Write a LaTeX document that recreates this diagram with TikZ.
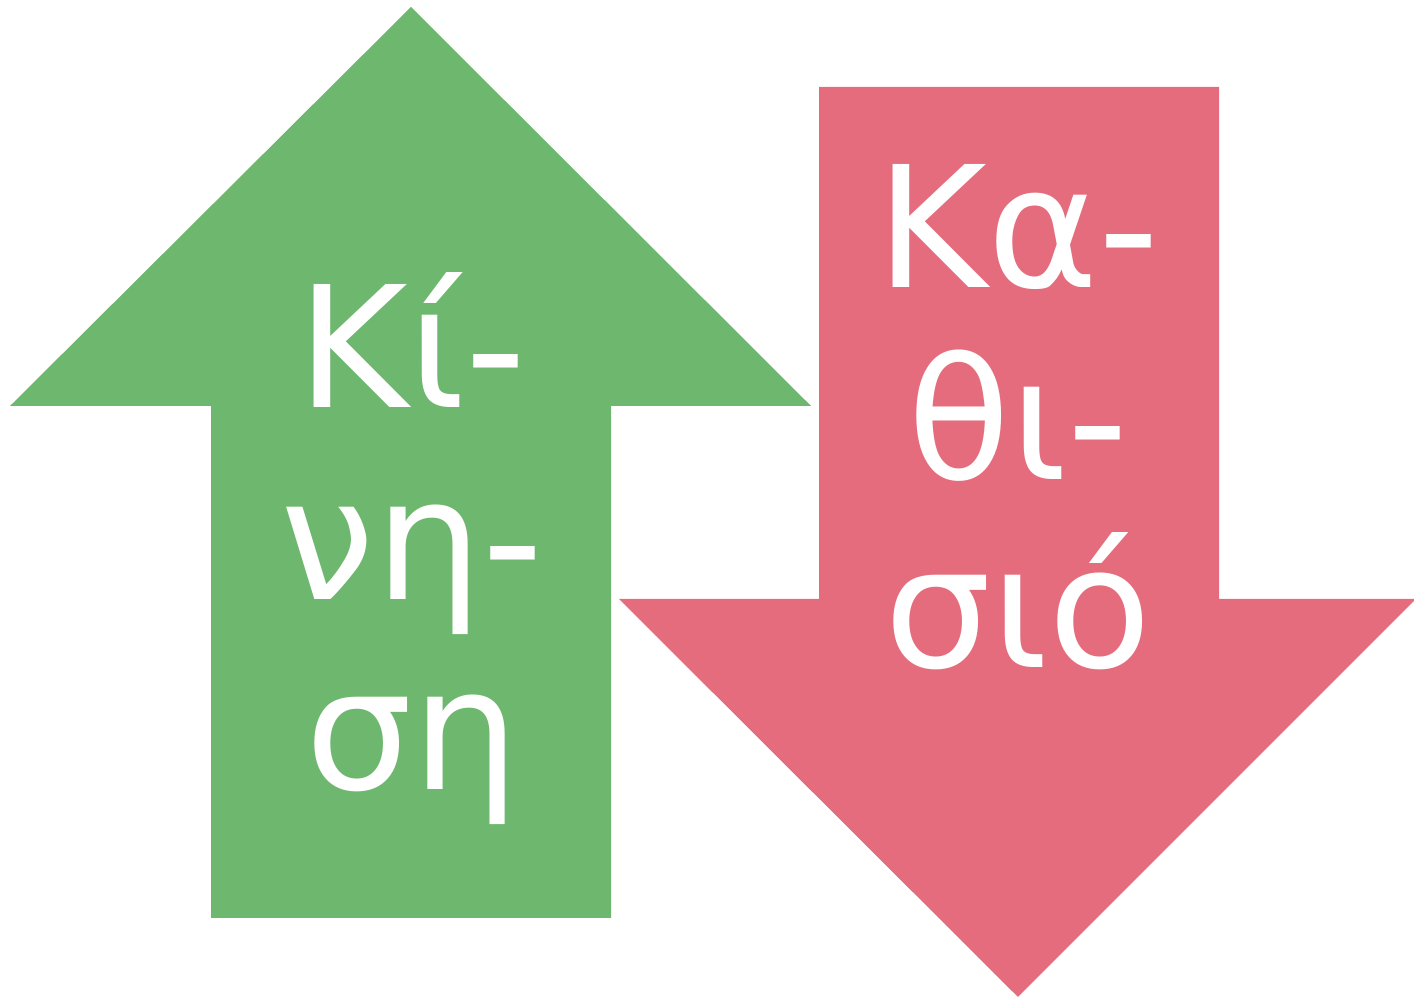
\documentclass[tikz,border=0pt]{standalone}
\usepackage{fontspec}
\setmainfont{DejaVu Sans}
\definecolor{upgreen}{HTML}{6EB76E}
\definecolor{downred}{HTML}{E56C7C}
\tikzset{
  word/.style={text=white, anchor=base, inner sep=0pt, font=\fontsize{48}{56}\selectfont}
}
\begin{document}
\begin{tikzpicture}[x=0.01cm,y=-0.01cm]
\useasboundingbox (0,0) rectangle (1414,998);
% green up arrow
\fill[upgreen] (411,7) -- (811,406) -- (611,406) -- (611,918) -- (211,918) -- (211,406) -- (10,406) -- cycle;
% red down arrow
\fill[downred] (819,87) -- (1219,87) -- (1219,599) -- (1416,599) -- (1018,997) -- (619,599) -- (819,599) -- cycle;
% texts
\node[word] (g1) at (412,408) {Κί-};
\node[word] (g2) at (412,600) {νη-};
\node[word] (g3) at (412,790) {ση};
\node[word] (r1) at (1018,288) {Κα-};
\node[word] (r2) at (1018,480) {θι-};
\node[word] (r3) at (1018,668) {σιό};
\end{tikzpicture}
\end{document}
